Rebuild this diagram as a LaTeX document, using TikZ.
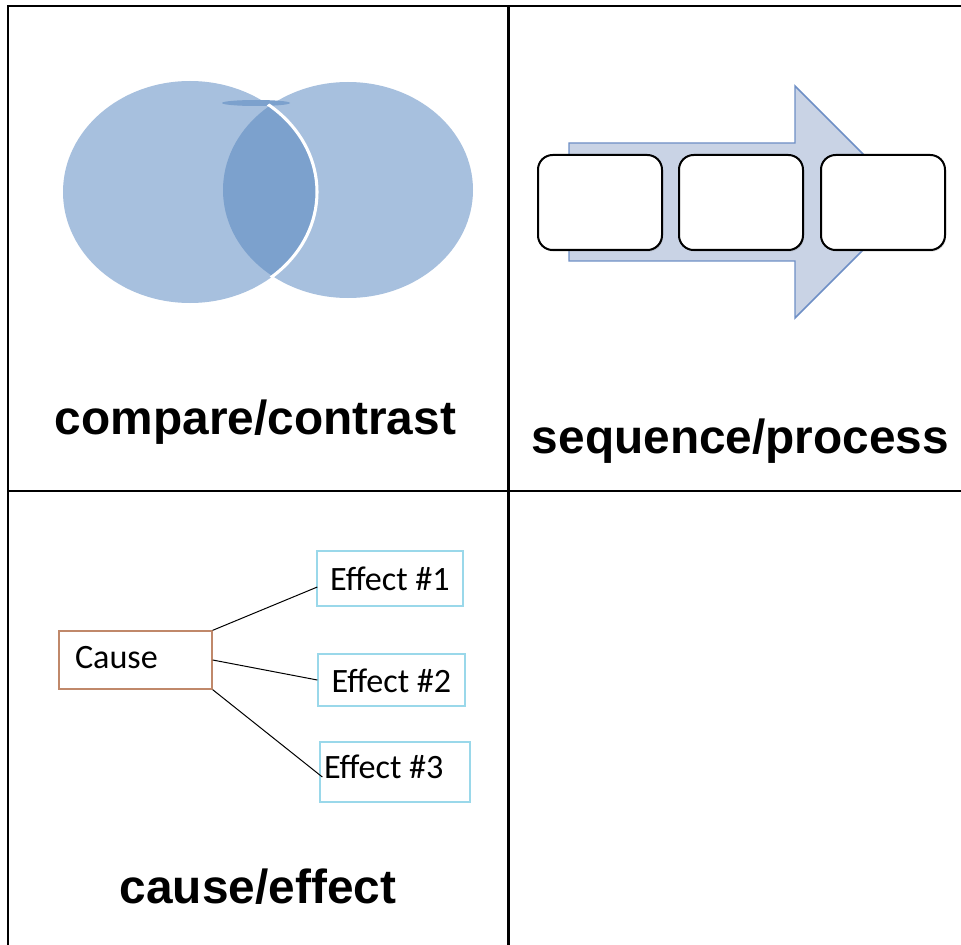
\documentclass[tikz,border=0pt]{standalone}
\usepackage{fontspec}
\setmainfont{Liberation Sans}
\newfontfamily\boxfont{Carlito}
\usetikzlibrary{calc,shadows}
\definecolor{vennblue}{HTML}{A7C0DE}
\definecolor{venndark}{HTML}{7CA1CD}
\definecolor{arrowfill}{HTML}{C9D3E5}
\definecolor{arrowline}{HTML}{6E8FC6}
\definecolor{causeline}{HTML}{C0886A}
\definecolor{effectline}{HTML}{9AD8EA}
\begin{document}
\begin{tikzpicture}[x=0.75pt, y=-0.75pt,
        gridline/.style={line width=1.6pt, black},
        title/.style={anchor=base, inner sep=0, font=\fontsize{35.85pt}{40pt}\selectfont\bfseries},
        stepbox/.style={rectangle, rounded corners=11pt, draw=black, line width=1.5pt, fill=white,
            minimum width=93pt, minimum height=71.25pt,
            drop shadow={opacity=0.3, shadow xshift=0.8pt, shadow yshift=-1.2pt}},
        causebox/.style={rectangle, draw=causeline, line width=1pt, font=\boxfont\fontsize{25.6pt}{28pt}\selectfont,
            text height=18pt, align=flush left, inner ysep=0pt},
        effectbox/.style={rectangle, draw=effectline, line width=1pt, font=\boxfont\fontsize{25.6pt}{28pt}\selectfont,
            text height=18pt, inner sep=0pt},
        link/.style={black, line width=0.75pt},
    ]
        \useasboundingbox[fill=white] (0,0) rectangle (961,945);

        %Table
        \draw[gridline] (7.7,945) -- (7.7,6) -- (961,6);
        \draw[gridline] (508.5,6) -- (508.5,945);
        \draw[gridline] (7.7,491) -- (961,491);

        %Venn
        \fill[vennblue] (190,192) ellipse [x radius=127, y radius=111];
        \fill[vennblue] (348,190) ellipse [x radius=125, y radius=108];
        \begin{scope}
            \clip (190,192) ellipse [x radius=127, y radius=111];
            \fill[venndark] (348,190) ellipse [x radius=125, y radius=108];
        \end{scope}
        \fill[venndark] (256,103) ellipse [x radius=34, y radius=3];
        \begin{scope}
            \clip (348,190) ellipse [x radius=127, y radius=110];
            \draw[white, line width=2.3pt] (190,192) ellipse [x radius=127, y radius=111];
        \end{scope}

        %Arrow
        \draw[arrowline, fill=arrowfill, line width=1.1pt, line join=miter]
            (569,143) -- (795,143) -- (795,86) -- (911,202) -- (795,318) -- (795,261) -- (569,261) -- cycle;

        %Nodes
        \node[stepbox] (stepa) at (600,202.5) {};
        \node[stepbox] (stepb) at (741,202.5) {};
        \node[stepbox] (stepc) at (883,202.5) {};

        \node[causebox, inner xsep=12pt, text width=90.75pt, minimum height=43.5pt, text depth=6pt] (cause) at (135.5,660) {Cause};
        \node[effectbox, minimum width=109.5pt, minimum height=41.25pt, text depth=0pt] (effa) at (390,578.5) {Effect \#1};
        \node[effectbox, minimum width=110.25pt, minimum height=39pt, text depth=0pt] (effb) at (391.5,680) {Effect \#2};
        \node[effectbox, align=flush left, inner xsep=3pt, text width=106.5pt, minimum height=45pt, text depth=9pt] (effc) at (395,772) {Effect \#3};

        %Lines
        \draw[link] (cause.north east) -- ($(effa.west)+(1,8.5)$);
        \draw[link] (cause.east) -- (effb.west);
        \draw[link] (cause.south east) -- ($(effc.west)+(3,5)$);

        %Titles
        \node[title] (comparet) at (255.5,434) {compare/contrast};
        \node[title] (sequencet) at (740.5,453) {sequence/process};
        \node[title] (causet) at (258,903) {cause/effect};
    \end{tikzpicture}
\end{document}
